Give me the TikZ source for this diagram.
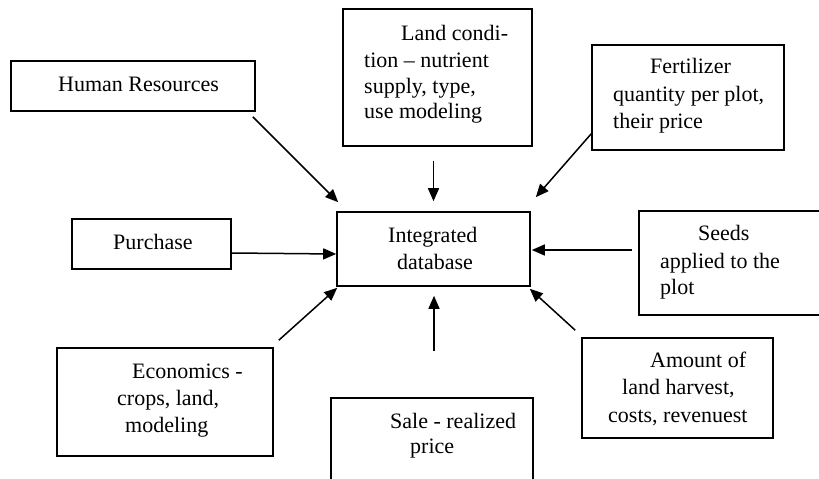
\documentclass[tikz,border=0pt]{standalone}
\usepackage{fontspec}
\setmainfont{Liberation Serif}
\usetikzlibrary{arrows.meta,calc}
\begin{document}
\begin{tikzpicture}[x=1pt,y=-1pt,
  box/.style={draw,line width=1.6pt,inner sep=0pt},
  txt/.style={inner sep=0pt,anchor=base west,font=\fontsize{22}{27}\selectfont},
  arr/.style={line width=1.5pt,-{Triangle[length=13pt,width=11pt]}}]
\useasboundingbox (0,0) rectangle (819,479);
% boxes
\node[box,minimum width=244pt,minimum height=50pt] (hr) at (133,86) {};
\node[box,minimum width=189pt,minimum height=137pt] (land) at (437.5,77.5) {};
\node[box,minimum width=192pt,minimum height=105pt] (fert) at (688,97.5) {};
\node[box,minimum width=193pt,minimum height=74pt] (db) at (433.5,249) {};
\node[box,minimum width=159pt,minimum height=50pt] (pur) at (151.5,244) {};
\node[box,minimum width=191pt,minimum height=104pt] (seeds) at (734.5,263) {};
\node[box,minimum width=216pt,minimum height=108pt] (eco) at (165,402) {};
\node[box,minimum width=202pt,minimum height=102pt] (sale) at (432,449) {};
\node[box,minimum width=191pt,minimum height=100pt] (amt) at (677.5,388) {};
% texts
\node[txt] (t1) at (58,91) {Human Resources};
\node[txt] (t2) at (401,40) {Land condi-};
\node[txt] (t3) at (364,67) {tion – nutrient};
\node[txt] (t4) at (364,93) {supply, type,};
\node[txt] (t5) at (364,118) {use modeling};
\node[txt] (t6) at (650,73) {Fertilizer};
\node[txt] (t7) at (613,101) {quantity per plot,};
\node[txt] (t8) at (613,128) {their price};
\node[txt] (t9) at (388,242) {Integrated};
\node[txt] (t10) at (397,269) {database};
\node[txt] (t11) at (113,249) {Purchase};
\node[txt] (t12) at (698,240) {Seeds};
\node[txt] (t13) at (660,268) {applied to the};
\node[txt] (t14) at (660,294) {plot};
\node[txt] (t15) at (132,378) {Economics -};
\node[txt] (t16) at (117,405) {crops, land,};
\node[txt] (t17) at (125,432) {modeling};
\node[txt] (t18) at (390,428) {Sale - realized};
\node[txt] (t19) at (410,453) {price};
\node[txt] (t20) at (650,367) {Amount of};
\node[txt] (t21) at (622,394) {land harvest,};
\node[txt] (t22) at (608,422) {costs, revenuest};
% arrows
\draw[arr] ($(hr.south east)+(-3,5)$) -- ($(db.north west)+(2,-9)$);
\draw[arr] ($(land.south)+(-4,14)$) -- ($(db.north)+(0,-10)$);
\draw[arr] ($(fert.south west)+(0,-17)$) -- ($(db.north east)+(5,-14)$);
\draw[arr] ($(pur.east)+(0,9)$) -- ($(db.west)+(0,5)$);
\draw[arr] ($(seeds.west)+(-6,-13)$) -- ($(db.east)+(1,1)$);
\draw[arr] ($(eco.north east)+(5,-7)$) -- ($(db.south west)+(1,1)$);
\draw[arr] ($(sale.north)+(2,-46)$) -- ($(db.south)+(0.5,9)$);
\draw[arr] ($(amt.north west)+(-6,-7)$) -- ($(db.south east)+(-1,2)$);
\end{tikzpicture}
\end{document}
